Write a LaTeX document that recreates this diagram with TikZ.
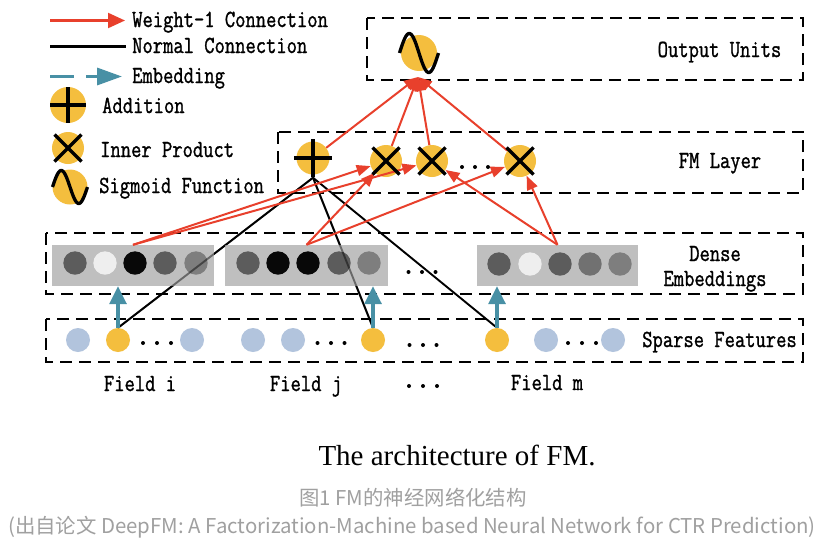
\documentclass[tikz,border=0pt]{standalone}
\usepackage{fontspec}
\usepackage{graphicx}
\usetikzlibrary{arrows.meta}
\newfontfamily\capfont{Liberation Serif}
\newfontfamily\cjkfont{Noto Sans CJK SC}
\newfontfamily\monof[FakeBold=1.3]{Latin Modern Mono}
\definecolor{myyellow}{RGB}{244,190,62}
\definecolor{lblue}{RGB}{178,196,221}
\definecolor{rectgray}{RGB}{191,191,191}
\definecolor{tealc}{RGB}{72,144,165}
\definecolor{redc}{RGB}{232,64,44}
\definecolor{gdark}{RGB}{92,92,92}
\definecolor{glight}{RGB}{238,238,238}
\definecolor{gblack}{RGB}{8,8,8}
\definecolor{gmed}{RGB}{126,126,126}
\definecolor{capgray}{RGB}{160,160,160}
\pgfdeclarelayer{bg}
\pgfsetlayers{bg,main}
\newcommand\mono[1]{\scalebox{1}[1.23]{\fontsize{20}{24}\selectfont\monof #1}}
\newcommand\mycross[2]{\draw[symline] ([shift={(-#2,-#2)}]#1.center) -- ([shift={(#2,#2)}]#1.center) ([shift={(-#2,#2)}]#1.center) -- ([shift={(#2,-#2)}]#1.center);}
\newcommand\myplus[2]{\draw[symline] ([shift={(-#2,0)}]#1.center) -- ([shift={(#2,0)}]#1.center) ([shift={(0,-#2)}]#1.center) -- ([shift={(0,#2)}]#1.center);}
\newcommand\mysine[3]{\begin{scope}[shift={(#1.center)}]\draw[symline] plot[domain=-1:1,samples=50,smooth] ({#2*\x},{#3*sin(180*\x)});\end{scope}}
\newcommand\mydots[3]{\foreach \d in {-1,0,1} \fill ({#1+#3*\d},#2) circle (2pt);}
\begin{document}
\begin{tikzpicture}[x=1pt,y=-1pt,
  yc/.style={circle,fill=myyellow,inner sep=0pt,minimum size=#1},
  yc/.default=32pt,
  bc/.style={circle,fill=lblue,inner sep=0pt,minimum size=24pt},
  sc/.style={circle,fill=myyellow,inner sep=0pt,minimum size=24pt},
  ec/.style={circle,fill=#1,inner sep=0pt,minimum size=23.4pt},
  grect/.style={rectangle,fill=rectgray,inner sep=0pt,minimum height=41pt,minimum width=#1},
  symline/.style={black,line width=3.3pt},
  dbox/.style={black,line width=2.8pt,dash pattern=on 12pt off 7pt},
  redar/.style={redc,line width=2pt,-{Triangle[length=14pt,width=11pt]}},
  blk/.style={black,line width=1.9pt},
  tealar/.style={tealc,line width=3.3pt,-{Triangle[length=18pt,width=17pt]}},
  lbl/.style={inner sep=0pt,anchor=base},
  lblw/.style={inner sep=0pt,anchor=base west}]
\useasboundingbox (0,0) rectangle (834,554);
\begin{pgfonlayer}{bg}
\fill[white] (0,0) rectangle (834,554);
\end{pgfonlayer}

% ---------- legend ----------
\coordinate (lra) at (50,20.5); \coordinate (lrb) at (125,20.5);
\draw[redc,line width=2.2pt,-{Triangle[length=17pt,width=15pt]}] (lra) -- (lrb);
\coordinate (lba) at (50,46.5); \coordinate (lbb) at (126,46.5);
\draw[black,line width=2.2pt] (lba) -- (lbb);
\coordinate (lta) at (50,76.5); \coordinate (ltb) at (122,76.5);
\draw[tealc,line width=3.3pt,dash pattern=on 24pt off 12pt,-{Triangle[length=25pt,width=17pt]}] (lta) -- (ltb);
\node[lblw] (t1) at (132,27) {\mono{Weight-1 Connection}};
\node[lblw] (t2) at (132,53) {\mono{Normal Connection}};
\node[lblw] (t3) at (132,83) {\mono{Embedding}};
\node[yc=36pt] (la) at (68,105) {}; \myplus{la}{18}
\node[lblw] (t4) at (102,113) {\mono{Addition}};
\node[yc=32pt] (lx) at (68,148) {}; \mycross{lx}{13.5}
\node[lblw] (t5) at (100,157) {\mono{Inner Product}};
\node[yc=35pt] (ls) at (70,187) {}; \mysine{ls}{17.5}{16.5}
\node[lblw] (t6) at (99,193) {\mono{Sigmoid Function}};

% ---------- boxes ----------
\draw[dbox] (367,18) rectangle (803,80);
\draw[dbox] (278,132) rectangle (803,193);
\draw[dbox] (46,233) rectangle (803,294);
\draw[dbox] (46,319) rectangle (803,362);
\node[lbl] (tout) at (719.5,57) {\mono{Output Units}};
\node[lbl] (tfm) at (720,168) {\mono{FM Layer}};
\node[lbl] (tde1) at (715,261) {\mono{Dense}};
\node[lbl] (tde2) at (715,286) {\mono{Embeddings}};
\node[lbl] (tsp) at (719.5,347) {\mono{Sparse Features}};

% ---------- output unit ----------
\node[yc=36pt] (out) at (419,53) {};
\coordinate (outtip) at (418,77);

% ---------- FM layer ----------
\node[yc=33pt] (plus) at (313,158) {};
\node[yc] (c1) at (386,161) {};
\node[yc] (c2) at (432,161) {};
\node[yc] (cm) at (520,161) {};
\mydots{475}{167}{13}

% ---------- dense embeddings ----------
\node[grect=162pt] (g1) at (133,265.5) {};
\node[grect=163pt] (g2) at (306.5,265.5) {};
\node[grect=161pt] (g3) at (557.5,265.5) {};
\node[ec=gdark] (e11) at (75,263) {};
\node[ec=glight] (e12) at (105,263) {};
\node[ec=gblack] (e13) at (135,263) {};
\node[ec=gdark] (e14) at (165,263) {};
\node[ec=gmed] (e15) at (196,263) {};
\node[ec=gdark] (e21) at (248,263) {};
\node[ec=gblack] (e22) at (278,263) {};
\node[ec=gblack] (e23) at (308,263) {};
\node[ec=gdark] (e24) at (339,263) {};
\node[ec=gmed] (e25) at (369,263) {};
\node[ec=gdark] (e31) at (499,264) {};
\node[ec=glight] (e32) at (530,264) {};
\node[ec=gdark] (e33) at (560,264) {};
\node[ec=gmed!90!black] (e34) at (590,264) {};
\node[ec=gmed] (e35) at (620,264) {};
\mydots{422}{272}{13.5}

% ---------- sparse features ----------
\node[bc] (si1) at (78,340) {};
\node[sc] (fi) at (118,340) {};
\mydots{157}{343}{14}
\node[bc] (si2) at (192,340) {};
\node[bc] (sj1) at (253,340) {};
\node[bc] (sj2) at (293,340) {};
\mydots{331}{343}{13.5}
\node[sc] (fj) at (373,340) {};
\mydots{423}{345}{13.5}
\node[sc] (fm) at (497,340) {};
\node[bc] (sm1) at (546,340) {};
\mydots{582}{343}{14}
\node[bc] (sm2) at (613,340) {};

% ---------- field labels ----------
\node[lbl] (lfi) at (140,391) {\mono{Field i}};
\node[lbl] (lfj) at (306,391) {\mono{Field j}};
\node[lbl] (lfm) at (547,390) {\mono{Field m}};
\mydots{423}{386}{14}

% ---------- normal connections ----------
\begin{pgfonlayer}{bg}
\draw[blk] ([yshift=-3pt]plus.south) -- (fi.north);
\draw[blk] ([yshift=-3pt]plus.south) -- (fj.north);
\draw[blk] ([yshift=-3pt]plus.south) -- (fm.north);
\end{pgfonlayer}
\draw[blk,opacity=0.45] ([yshift=-3pt]plus.south) -- (fi.north);
\draw[blk,opacity=0.45] ([yshift=-3pt]plus.south) -- (fj.north);

% ---------- embeddings ----------
\draw[tealar] (fi.north) -- (fi.north |- g1.south);
\draw[tealar] (fj.north) -- (fj.north |- g2.south);
\draw[tealar] (fm.north) -- (fm.north |- g3.south);

% ---------- weight-1 connections ----------
\draw[redar] (g1.north) -- (c1);
\draw[redar] (g2.north) -- (c1);
\draw[redar] (g1.north) -- (c2);
\draw[redar] (g3.north) -- (c2);
\draw[redar] (g2.north) -- (cm);
\draw[redar] (g3.north) -- (cm);
\draw[redar] (plus) -- (outtip);
\draw[redar] (c1) -- (outtip);
\draw[redar] (c2) -- (outtip);
\draw[redar] (cm) -- (outtip);

% ---------- symbols ----------
\myplus{plus}{19}
\mycross{c1}{13.5}
\mycross{c2}{13.5}
\mycross{cm}{13.5}
\mysine{out}{19.5}{19.5}

% ---------- captions ----------
\node[lbl,font=\capfont\fontsize{29}{34}\selectfont] (cap) at (457,465) {The architecture of FM.};
\node[lbl,text=capgray,font=\cjkfont\fontsize{20.4}{24}\selectfont] (cap2) at (413,505) {图1 FM的神经网络化结构};
\node[lbl,text=capgray,font=\cjkfont\fontsize{20.4}{24}\selectfont] (cap3) at (412,533) {(出自论文 DeepFM: A Factorization-Machine based Neural Network for CTR Prediction)};
\end{tikzpicture}
\end{document}
